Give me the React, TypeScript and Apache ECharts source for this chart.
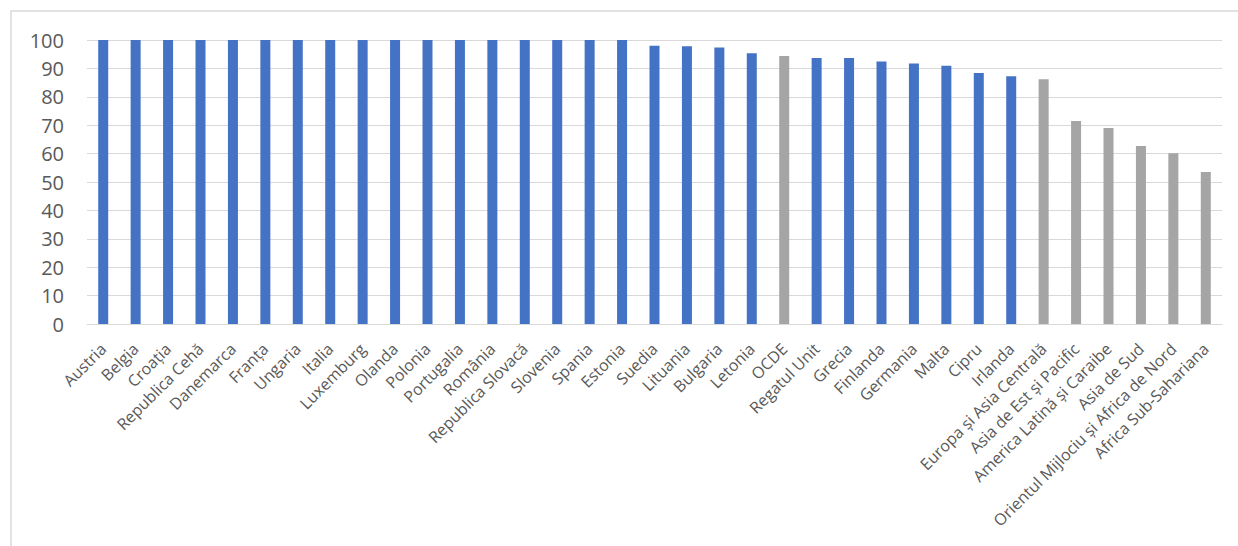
import React, { useEffect, useRef } from "react";
import * as echarts from "echarts";

const categories: string[] = [
  "Austria",
  "Belgia",
  "Croația",
  "Republica Cehă",
  "Danemarca",
  "Franța",
  "Ungaria",
  "Italia",
  "Luxemburg",
  "Olanda",
  "Polonia",
  "Portugalia",
  "România",
  "Republica Slovacă",
  "Slovenia",
  "Spania",
  "Estonia",
  "Suedia",
  "Lituania",
  "Bulgaria",
  "Letonia",
  "OCDE",
  "Regatul Unit",
  "Grecia",
  "Finlanda",
  "Germania",
  "Malta",
  "Cipru",
  "Irlanda",
  "Europa și Asia Centrală",
  "Asia de Est și Pacific",
  "America Latină și Caraibe",
  "Asia de Sud",
  "Orientul Mijlociu și Africa de Nord",
  "Africa Sub-Sahariana",
];

const values: number[] = [
  100, 100, 100, 100, 100, 100, 100, 100, 100, 100, 100, 100, 100, 100, 100,
  100, 100, 98.0, 97.8, 97.4, 95.3, 94.4, 93.7, 93.7, 92.4, 91.7, 90.9, 88.4,
  87.2, 86.2, 71.5, 69.0, 62.7, 60.1, 53.5,
];

const grayCategories: string[] = [
  "OCDE",
  "Europa și Asia Centrală",
  "Asia de Est și Pacific",
  "America Latină și Caraibe",
  "Asia de Sud",
  "Orientul Mijlociu și Africa de Nord",
  "Africa Sub-Sahariana",
];

const yMin = 0;
const yMax = 100;
const yInterval = 10;

const BLUE = "#4472C4";
const GRAY = "#A5A5A5";

export default function App() {
  const ref = useRef<HTMLDivElement>(null);

  useEffect(() => {
    if (!ref.current) return;
    const chart = echarts.init(ref.current, undefined, { renderer: "svg" });
    const data = values.map((v, i) => ({
      value: v,
      itemStyle: {
        color: grayCategories.includes(categories[i]) ? GRAY : BLUE,
      },
    }));
    chart.setOption({
      animation: false,
      backgroundColor: "#ffffff",
      graphic: [
        {
          type: "rect",
          shape: { x: 11, y: 11, width: 1400, height: 700 },
          style: { fill: "none", stroke: "#D9D9D9", lineWidth: 1.5 },
          silent: true,
        },
      ],
      grid: { left: 87, right: 16, top: 40, bottom: 222, containLabel: false },
      xAxis: {
        type: "category",
        data: categories,
        axisLine: { show: true, lineStyle: { color: "#D9D9D9", width: 1 } },
        axisTick: { show: false },
        axisLabel: {
          interval: 0,
          rotate: 45,
          margin: 22,
          color: "#595959",
          fontSize: 16,
          fontFamily: "Open Sans",
        },
      },
      yAxis: {
        type: "value",
        min: yMin,
        max: yMax,
        interval: yInterval,
        axisLine: { show: false },
        axisTick: { show: false },
        splitLine: { lineStyle: { color: "#D9D9D9", width: 1 } },
        axisLabel: {
          margin: 23,
          color: "#595959",
          fontSize: 20,
          fontFamily: "Open Sans",
        },
      },
      series: [
        {
          type: "bar",
          data,
          barWidth: 10,
        },
      ],
    });
    return () => chart.dispose();
  }, []);

  return (
    <div
      ref={ref}
      style={{ position: "fixed", left: 0, top: 0, width: 1238, height: 546 }}
    />
  );
}
